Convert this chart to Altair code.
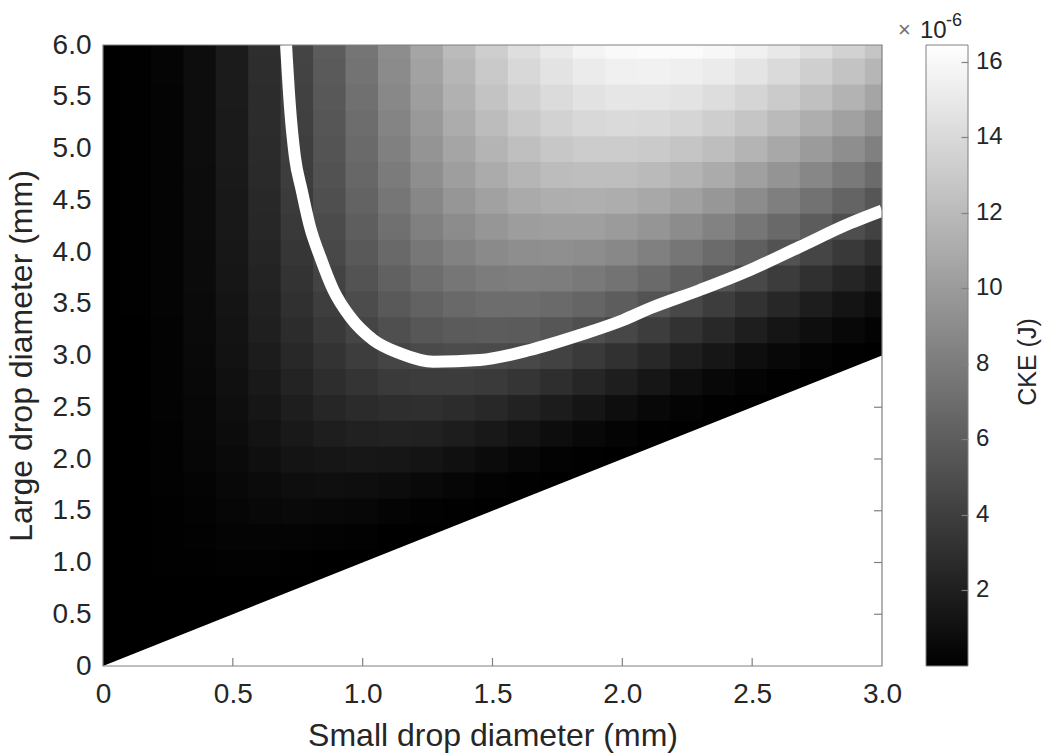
import altair as alt
import pandas as pd

FONT = "Liberation Sans"
TXT = "#262626"
AX = "#808080"

# ---- axis ticks -------------------------------------------------------
X_TICKS = [0, 0.5, 1.0, 1.5, 2.0, 2.5, 3.0]
Y_TICKS = [0, 0.5, 1.0, 1.5, 2.0, 2.5, 3.0, 3.5, 4.0, 4.5, 5.0, 5.5, 6.0]
CBAR_TICKS = [2, 4, 6, 8, 10, 12, 14, 16]
BOTTOM_TICKS = [0.5, 1.0, 1.5, 2.0, 2.5]
RIGHT_TICKS = [0.5, 1.0, 1.5, 2.0, 2.5]

# ---- CKE field (x1e-6 J): columns every 0.125 mm, rows every 0.25 mm -----
LARGE_D = [0.0, 0.25, 0.5, 0.75, 1.0, 1.25, 1.5, 1.75, 2.0, 2.25, 2.5, 2.75, 3.0,
           3.25, 3.5, 3.75, 4.0, 4.25, 4.5, 4.75, 5.0, 5.25, 5.5, 5.75, 6.0]
SMALL_D = [0.0, 0.125, 0.25, 0.375, 0.5, 0.625, 0.75, 0.875, 1.0, 1.125, 1.25, 1.375,
           1.5, 1.625, 1.75, 1.875, 2.0, 2.125, 2.25, 2.375, 2.5, 2.625, 2.75, 2.875, 3.0]

# each list ends at large diameter 6.0 mm and starts at the diagonal
cke_d0000 = [0.00, 0.00, 0.00, 0.00, 0.00, 0.00, 0.00, 0.00, 0.00, 0.00, 0.00, 0.00, 0.00,
             0.00, 0.00, 0.00, 0.00, 0.00, 0.00, 0.00, 0.00, 0.00, 0.00, 0.00, 0.00]
cke_d0125 = [0.00, 0.00, 0.00, 0.00, 0.01, 0.01, 0.01, 0.02, 0.02, 0.02, 0.03, 0.03, 0.03,
             0.03, 0.04, 0.04, 0.04, 0.04, 0.04, 0.04, 0.04, 0.04, 0.04, 0.04, 0.04]
cke_d0250 = [0.00, 0.01, 0.02, 0.04, 0.07, 0.09, 0.11, 0.14, 0.16, 0.18, 0.19, 0.21,
             0.22, 0.24, 0.25, 0.26, 0.27, 0.27, 0.28, 0.29, 0.29, 0.29, 0.30, 0.30]
cke_d0375 = [0.00, 0.00, 0.03, 0.09, 0.15, 0.22, 0.29, 0.36, 0.42, 0.48, 0.54, 0.59,
             0.63, 0.67, 0.70, 0.73, 0.76, 0.78, 0.80, 0.82, 0.84, 0.85, 0.86, 0.87]
cke_d0500 = [0.00, 0.03, 0.11, 0.24, 0.37, 0.52, 0.66, 0.80, 0.92, 1.04, 1.14, 1.24,
             1.32, 1.40, 1.46, 1.52, 1.57, 1.62, 1.66, 1.69, 1.72, 1.74, 1.77]
cke_d0625 = [0.01, 0.01, 0.10, 0.28, 0.50, 0.74, 0.98, 1.22, 1.44, 1.64, 1.83, 2.00,
             2.15, 2.29, 2.40, 2.51, 2.60, 2.68, 2.75, 2.81, 2.86, 2.91, 2.95]
cke_d0750 = [0.00, 0.06, 0.26, 0.56, 0.90, 1.26, 1.62, 1.96, 2.28, 2.57, 2.84, 3.08,
             3.29, 3.48, 3.65, 3.80, 3.92, 4.03, 4.13, 4.22, 4.29, 4.36]
cke_d0875 = [0.02, 0.02, 0.20, 0.53, 0.97, 1.45, 1.94, 2.42, 2.88, 3.30, 3.68, 4.03,
             4.34, 4.62, 4.86, 5.08, 5.27, 5.43, 5.58, 5.70, 5.81, 5.91]
cke_d1000 = [0.00, 0.11, 0.43, 0.93, 1.51, 2.14, 2.77, 3.37, 3.94, 4.46, 4.93, 5.36,
             5.74, 6.08, 6.37, 6.64, 6.86, 7.06, 7.24, 7.39, 7.52]
cke_d1125 = [0.03, 0.03, 0.29, 0.79, 1.45, 2.20, 2.97, 3.72, 4.44, 5.11, 5.72, 6.28,
             6.77, 7.22, 7.61, 7.95, 8.25, 8.52, 8.75, 8.95, 9.12]
cke_d1250 = [0.00, 0.15, 0.60, 1.28, 2.10, 3.00, 3.90, 4.77, 5.59, 6.35, 7.05, 7.67,
             8.23, 8.72, 9.16, 9.54, 9.87, 10.17, 10.43, 10.65]
cke_d1375 = [0.04, 0.04, 0.38, 1.02, 1.88, 2.86, 3.89, 4.91, 5.88, 6.79, 7.62, 8.38,
             9.06, 9.66, 10.20, 10.67, 11.09, 11.45, 11.77, 12.05]
cke_d1500 = [0.00, 0.18, 0.73, 1.57, 2.60, 3.71, 4.85, 5.96, 7.01, 7.99, 8.89, 9.69,
             10.41, 11.06, 11.62, 12.12, 12.56, 12.94, 13.28]
cke_d1625 = [0.05, 0.05, 0.45, 1.20, 2.22, 3.39, 4.62, 5.85, 7.03, 8.14, 9.17, 10.10,
             10.94, 11.69, 12.35, 12.94, 13.46, 13.91, 14.31]
cke_d1750 = [0.00, 0.21, 0.83, 1.78, 2.95, 4.23, 5.55, 6.84, 8.08, 9.23, 10.28, 11.24,
             12.10, 12.85, 13.53, 14.13, 14.65, 15.12]
cke_d1875 = [0.05, 0.06, 0.50, 1.33, 2.44, 3.74, 5.11, 6.49, 7.82, 9.08, 10.25, 11.32,
             12.28, 13.14, 13.91, 14.58, 15.18, 15.71]
cke_d2000 = [0.00, 0.23, 0.90, 1.91, 3.16, 4.55, 5.98, 7.39, 8.75, 10.02, 11.18, 12.25,
             13.19, 14.04, 14.81, 15.48, 16.07]
cke_d2125 = [0.06, 0.06, 0.52, 1.39, 2.56, 3.92, 5.37, 6.83, 8.25, 9.60, 10.86, 12.01,
             13.05, 13.99, 14.82, 15.56, 16.22]
cke_d2250 = [0.00, 0.24, 0.92, 1.96, 3.25, 4.67, 6.15, 7.63, 9.04, 10.37, 11.61, 12.72,
             13.72, 14.64, 15.44, 16.17]
cke_d2375 = [0.06, 0.06, 0.53, 1.41, 2.58, 3.95, 5.42, 6.90, 8.36, 9.74, 11.04, 12.23,
             13.31, 14.28, 15.15, 15.92]
cke_d2500 = [0.00, 0.24, 0.92, 1.95, 3.22, 4.64, 6.12, 7.59, 9.01, 10.35, 11.59, 12.72,
             13.76, 14.69, 15.52]
cke_d2625 = [0.06, 0.06, 0.52, 1.38, 2.53, 3.86, 5.30, 6.76, 8.19, 9.56, 10.85, 12.03,
             13.12, 14.09, 14.97]
cke_d2750 = [0.00, 0.23, 0.89, 1.88, 3.11, 4.48, 5.91, 7.33, 8.72, 10.02, 11.23, 12.36,
             13.38, 14.30]
cke_d2875 = [0.06, 0.06, 0.50, 1.32, 2.41, 3.68, 5.05, 6.45, 7.82, 9.14, 10.38, 11.53,
             12.58, 13.53]
cke_d3000 = [0.00, 0.22, 0.84, 1.78, 2.94, 4.23, 5.57, 6.93, 8.23, 9.47, 10.65, 11.72,
             12.71]
CKE_COLUMNS = [cke_d0000, cke_d0125, cke_d0250, cke_d0375, cke_d0500, cke_d0625,
               cke_d0750, cke_d0875, cke_d1000, cke_d1125, cke_d1250, cke_d1375,
               cke_d1500, cke_d1625, cke_d1750, cke_d1875, cke_d2000, cke_d2125,
               cke_d2250, cke_d2375, cke_d2500, cke_d2625, cke_d2750, cke_d2875,
               cke_d3000]

# ---- white contour -----------------------------------------------------------
CONTOUR_X = [0.705, 0.720, 0.739, 0.765, 0.797, 0.836, 0.887, 0.951, 1.041, 1.144,
             1.272, 1.452, 1.644, 1.837, 2.004, 2.107, 2.299, 2.492, 2.684, 2.877, 3.0]
CONTOUR_Y = [6.0, 5.404, 4.921, 4.599, 4.244, 3.955, 3.633, 3.375, 3.150, 3.021,
             2.940, 2.957, 3.053, 3.198, 3.343, 3.456, 3.633, 3.826, 4.051, 4.277, 4.399]

# ---- lower bound of the domain (large = small) -------------------------------
EDGE_X = [0.0, 3.0]
EDGE_Y = [0.0, 3.0]

CBAR_DOMAIN = [0.0, 16.45]

# ---------------------------------------------------------------------------
W, H = 779, 621
rows = []
for d, vals in zip(SMALL_D, CKE_COLUMNS):
    for D, v in zip(LARGE_D[len(LARGE_D) - len(vals):], vals):
        rows.append({"d": d, "D": D, "cke": v})
grid = pd.DataFrame(rows)

xs = alt.Scale(domain=[0, 3], nice=False, zero=False)
ys = alt.Scale(domain=[0, 6], nice=False, zero=False)
cs = alt.Scale(domain=CBAR_DOMAIN, range=["#000000", "#ffffff"], interpolate="rgb", clamp=True)
cbs = alt.Scale(domain=CBAR_DOMAIN, nice=False, zero=False)

lbl = "datum.value == 0 ? '0' : format(datum.value, '.1f')"
x_axis = alt.Axis(values=X_TICKS, labelExpr=lbl, title="Small drop diameter (mm)",
                  labelPadding=14, titlePadding=12, labelFlush=False)
y_axis = alt.Axis(values=Y_TICKS, labelExpr=lbl, title="Large drop diameter (mm)",
                  labelPadding=12, titlePadding=14, labelFlush=False)
cbar_axis = alt.Axis(orient="right", offset=79, values=CBAR_TICKS, labels=False,
                     domain=False, ticks=True, tickSize=7, tickColor=AX, tickWidth=1.2,
                     title=None, grid=False, zindex=2)

legend = alt.Legend(type="gradient", orient="none", legendX=823, legendY=0,
                    direction="vertical", gradientLength=H, gradientThickness=42,
                    values=CBAR_TICKS, title=None, labelFontSize=24, labelOffset=8,
                    labelFont=FONT, labelColor=TXT, gradientStrokeColor=AX,
                    gradientStrokeWidth=1, padding=0, offset=0, labelOverlap=False,
                    zindex=1)

heat = alt.Chart(grid).transform_calculate(
    x0="datum.d - 0.066", x1="datum.d + 0.066",
    y0="datum.D - 0.131", y1="datum.D + 0.131",
).mark_rect(clip=True).encode(
    x=alt.X("x0:Q", scale=xs, axis=x_axis),
    x2="x1:Q",
    y=alt.Y("y0:Q", scale=ys, axis=y_axis),
    y2="y1:Q",
    color=alt.Color("cke:Q", scale=cs, legend=legend),
)

tri = alt.Chart(pd.DataFrame({"x": EDGE_X, "y": EDGE_Y})).mark_area(
    color="#ffffff", clip=True
).encode(
    x=alt.X("x:Q", scale=xs, axis=x_axis),
    y=alt.Y("y:Q", scale=ys, axis=None),
)

bticks = alt.Chart(pd.DataFrame({"t": BOTTOM_TICKS})).mark_rule(color=AX, strokeWidth=1.2).encode(
    x=alt.X("t:Q", scale=xs, axis=x_axis), y=alt.value(H), y2=alt.value(H - 8)
)
rticks = alt.Chart(pd.DataFrame({"t": RIGHT_TICKS})).mark_rule(color=AX, strokeWidth=1.2).encode(
    y=alt.Y("t:Q", scale=ys, axis=None), x=alt.value(W), x2=alt.value(W - 8)
)
cticks = alt.Chart(pd.DataFrame({"v": CBAR_TICKS})).mark_point(opacity=0).encode(
    y=alt.Y("v:Q", scale=cbs, axis=cbar_axis), x=alt.value(0),
)

contour = alt.Chart(pd.DataFrame({"x": CONTOUR_X, "y": CONTOUR_Y})).mark_line(
    color="#ffffff", strokeWidth=12, interpolate="monotone", clip=True
).encode(
    x=alt.X("x:Q", scale=xs, axis=x_axis),
    y=alt.Y("y:Q", scale=ys, axis=None),
)

frame = alt.Chart(pd.DataFrame({"f": [1]})).mark_rect(filled=False, stroke=AX, strokeWidth=1.2).encode(
    x=alt.value(0), x2=alt.value(W), y=alt.value(0), y2=alt.value(H)
)


def label(text, x, y, size, color=TXT, angle=0, align="left", baseline="alphabetic"):
    return alt.Chart(pd.DataFrame({"s": [text]})).mark_text(
        font=FONT, fontSize=size, color=color, angle=angle, align=align, baseline=baseline
    ).encode(x=alt.value(x), y=alt.value(y), text="s:N")


times = label("×", 795, -8, 22, color="#707070")
ten = label("10", 817, -7, 24)
sup = label("-6", 843, -19, 18)
cke_title = label("CKE (J)", 925, 317, 25, angle=270, align="center", baseline="middle")

chart = alt.layer(
    heat, tri, bticks, rticks, cticks, contour, frame, times, ten, sup, cke_title
).resolve_scale(y="independent").properties(
    width=W, height=H,
    autosize=alt.AutoSizeParams(type="none"),
    padding={"left": 103, "top": 45, "right": 167, "bottom": 90},
).configure_view(strokeWidth=0).configure_axis(
    labelFont=FONT, labelFontSize=28, labelColor=TXT,
    titleFont=FONT, titleFontSize=32, titleColor=TXT, titleFontWeight="normal",
    domain=False, ticks=False, tickSize=0, grid=False, labelOverlap=False, labelBound=False,
).configure_legend(gradientVerticalMaxLength=H, gradientLength=H)

chart.save("out.html", embed_options={"renderer": "svg", "actions": False})
